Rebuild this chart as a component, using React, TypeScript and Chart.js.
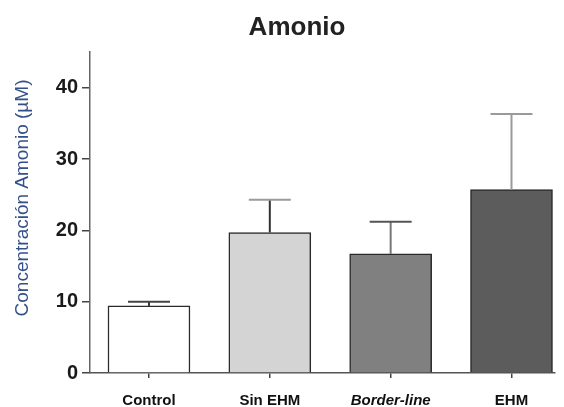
import React, { useEffect, useRef } from "react";
import { Chart, registerables } from "chart.js";

Chart.register(...registerables);

const categories = ["Control", "Sin EHM", "Border-line", "EHM"];
const means = [9.4, 19.7, 16.7, 25.7];
const sem = [0.6, 4.6, 4.5, 10.6];
const yTicks = [0, 10, 20, 30, 40];
const barColors = ["#ffffff", "#d4d4d4", "#808080", "#5c5c5c"];
const stemColors = ["#333333", "#333333", "#777777", "#9a9a9a"];
const capColors = ["#444444", "#9a9a9a", "#555555", "#9a9a9a"];
const chartTitle = "Amonio";
const yAxisTitle = "Concentración Amonio (µM)";

const errorBars = {
  id: "errorBars",
  afterDatasetsDraw(chart: any) {
    const { ctx } = chart;
    const xs = chart.scales.x;
    const ys = chart.scales.y;
    ctx.save();
    means.forEach((m, i) => {
      const x = xs.getPixelForValue(i);
      const y0 = ys.getPixelForValue(m);
      const y1 = ys.getPixelForValue(m + sem[i]);
      ctx.strokeStyle = stemColors[i];
      ctx.lineWidth = 2;
      ctx.beginPath();
      ctx.moveTo(x, y0);
      ctx.lineTo(x, y1);
      ctx.stroke();
      ctx.strokeStyle = capColors[i];
      ctx.beginPath();
      ctx.moveTo(x - 21, y1);
      ctx.lineTo(x + 21, y1);
      ctx.stroke();
    });
    ctx.restore();
  },
};

const texts = {
  id: "texts",
  afterDraw(chart: any) {
    const { ctx } = chart;
    ctx.save();
    ctx.fillStyle = "#222222";
    ctx.font = "bold 26px 'Liberation Sans', Arial, sans-serif";
    ctx.textAlign = "center";
    ctx.textBaseline = "middle";
    ctx.fillText(chartTitle, 297, 28);
    ctx.translate(23, 198);
    ctx.rotate(-Math.PI / 2);
    ctx.fillStyle = "#34508a";
    ctx.font = "19px 'Liberation Sans', Arial, sans-serif";
    ctx.fillText(yAxisTitle, 0, 0);
    ctx.restore();
  },
};

export default function App() {
  const ref = useRef<HTMLCanvasElement>(null);
  useEffect(() => {
    const chart = new Chart(ref.current!, {
      type: "bar",
      data: {
        datasets: [
          {
            data: means.map((v, i) => ({ x: i, y: v })),
            backgroundColor: barColors,
            borderColor: "#2a2a2a",
            borderWidth: 1.5,
            barThickness: 82,
          } as any,
        ],
      },
      options: {
        animation: false,
        responsive: false,
        layout: { padding: { left: 0, right: 9, top: 52, bottom: 0 } },
        plugins: {
          legend: { display: false },
          tooltip: { enabled: false },
          title: { display: false },
        },
        scales: {
          x: {
            type: "linear",
            min: -0.488,
            max: 3.36,
            offset: false,
            afterBuildTicks: (s: any) => {
              s.ticks = categories.map((_, i) => ({ value: i }));
            },
            afterFit: (s: any) => {
              s.height = 34;
            },
            grid: { offset: false, drawOnChartArea: false, drawTicks: true, tickLength: 5, color: "#444444", lineWidth: 1.5 },
            border: { color: "#555555", width: 1.5 },
            ticks: {
              padding: 14,
              color: "#111111",
              maxRotation: 0,
              autoSkip: false,
              callback: (v: any) => categories[v as number] ?? "",
              font: (c: any) => ({
                family: "'Liberation Sans', Arial, sans-serif",
                size: 15,
                weight: "bold",
                style: c.tick && c.tick.value === 2 ? "italic" : "normal",
              }),
            },
          },
          y: {
            min: 0,
            max: 45,
            afterBuildTicks: (s: any) => {
              s.ticks = yTicks.map((v) => ({ value: v }));
            },
            afterFit: (s: any) => {
              s.width = 90;
            },
            grid: { drawOnChartArea: false, drawTicks: true, tickLength: 8, color: "#444444", lineWidth: 1.5 },
            border: { color: "#666666", width: 1.5 },
            ticks: {
              padding: 4,
              color: "#1a1a1a",
              font: { family: "'Liberation Sans', Arial, sans-serif", size: 20, weight: "bold" },
            },
          },
        },
      },
      plugins: [errorBars, texts],
    });
    return () => chart.destroy();
  }, []);
  return (
    <div style={{ position: "absolute", left: 0, top: 0, width: 564, height: 407, background: "#fff" }}>
      <canvas ref={ref} width={564} height={407} style={{ display: "block" }} />
    </div>
  );
}
